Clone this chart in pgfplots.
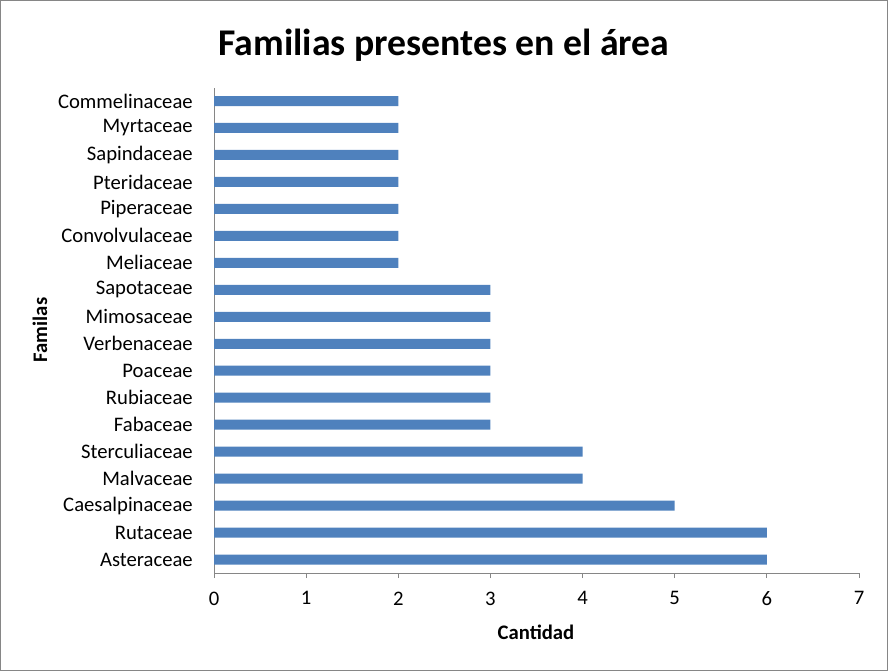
\documentclass[border=0pt]{standalone}
\usepackage{pgfplots}
\pgfplotsset{compat=1.18}
\usepackage{fontspec}
\setmainfont{Carlito}
\definecolor{barblue}{HTML}{4F81BD}
\definecolor{axgray}{HTML}{868686}
\begin{document}
\begin{tikzpicture}
\draw[axgray, line width=0.75pt] (0.375pt,0.375pt) rectangle (665.625pt,502.875pt);
\begin{axis}[
  at={(160.5pt,73.5pt)}, anchor=south west,
  scale only axis, width=483.75pt, height=364.1pt,
  xbar, bar width=7.5pt,
  xmin=0, xmax=7, ymin=-0.5, ymax=17.5,
  xtick={0,1,...,7},
  ytick={0,...,17},
  yticklabels={Asteraceae,Rutaceae,Caesalpinaceae,Malvaceae,Sterculiaceae,Fabaceae,Rubiaceae,Poaceae,Verbenaceae,Mimosaceae,Sapotaceae,Meliaceae,Convolvulaceae,Piperaceae,Pteridaceae,Sapindaceae,Myrtaceae,Commelinaceae},
  axis lines*=left,
  axis line style={axgray, line width=0.75pt},
  tick align=outside, major tick length=3.75pt,
  xtick style={axgray, line width=0.75pt},
  ytick style={draw=none},
  tick label style={font=\fontsize{15.5pt}{18pt}\selectfont},
  yticklabel style={inner sep=0pt, xshift=-12pt},
  xticklabel style={inner sep=0pt, yshift=-10pt},
  /pgf/number format/assume math mode=true,
]
\addplot[fill=barblue, draw=none] coordinates {
  (6,0) (6,1) (5,2) (4,3) (4,4) (3,5) (3,6) (3,7) (3,8) (3,9) (3,10)
  (2,11) (2,12) (2,13) (2,14) (2,15) (2,16) (2,17)
};
\end{axis}
\node[font=\fontsize{28.3pt}{32pt}\selectfont\bfseries] at (333pt,469.5pt) {Familias presentes en el área};
\node[font=\fontsize{15.5pt}{18pt}\selectfont\bfseries, rotate=90] at (30pt,255.75pt) {Familas};
\node[font=\fontsize{15.5pt}{18pt}\selectfont\bfseries] at (402pt,29.25pt) {Cantidad};
\end{tikzpicture}
\end{document}
